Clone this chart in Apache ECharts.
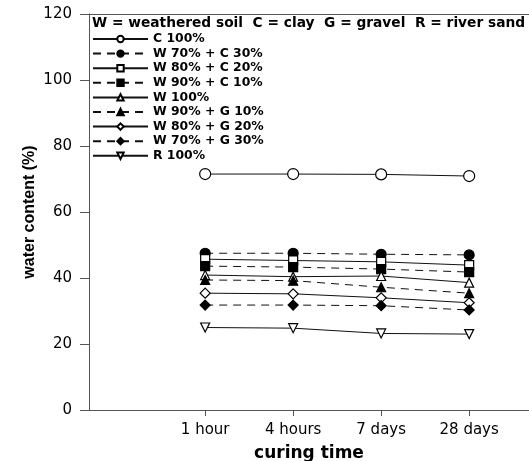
<!DOCTYPE html>
<html>
<head>
<meta charset="utf-8">
<script src="https://cdn.jsdelivr.net/npm/echarts@6/dist/echarts.min.js"></script>
<style>
  html, body { margin: 0; padding: 0; background: #fff; }
  #chart { width: 529px; height: 461px; }
</style>
</head>
<body>
<div id="chart"></div>
<script>
// curing time categories (x positions 1..4)
var categories = ['1 hour', '4 hours', '7 days', '28 days']
var yTicks = [0, 20, 40, 60, 80, 100, 120]

// water content (%) per mix
var c100 = [71.5, 71.5, 71.4, 70.9]
var w70c30 = [47.5, 47.5, 47.2, 47.0]
var w80c20 = [45.7, 45.3, 44.9, 43.9]
var w90c10 = [43.6, 43.3, 42.7, 41.8]
var w100 = [40.9, 40.4, 40.6, 38.6]
var w90g10 = [39.4, 39.2, 37.2, 35.4]
var w80g20 = [35.4, 35.2, 34.0, 32.5]
var w70g30 = [31.8, 31.8, 31.6, 30.3]
var r100 = [25.0, 24.8, 23.2, 23.0]

var chart = echarts.init(document.getElementById('chart'))

function mk (name, values, symbol, filled, dashed, size, rotate) {
  return {
    name: name,
    type: 'line',
    data: values.map(function (v, i) { return [i + 1, v] }),
    symbol: symbol,
    symbolSize: size,
    symbolRotate: rotate || 0,
    showSymbol: true,
    lineStyle: { color: '#111', width: 1, type: dashed ? [8, 6] : 'solid' },
    itemStyle: { color: filled ? '#000' : '#fff', borderColor: '#000', borderWidth: 1.2 },
    emphasis: { disabled: true },
    z: 3
  }
}

var seriesList = [
  mk('C 100%', c100, 'circle', false, false, 11),
  mk('W 70% + C 30%', w70c30, 'circle', true, true, 10),
  mk('W 80% + C 20%', w80c20, 'rect', false, false, 9),
  mk('W 90% + C 10%', w90c10, 'rect', true, true, 9),
  mk('W 100%', w100, 'triangle', false, false, 9),
  mk('W 90% + G 10%', w90g10, 'triangle', true, true, 9),
  mk('W 80% + G 20%', w80g20, 'diamond', false, false, 10),
  mk('W 70% + G 30%', w70g30, 'diamond', true, true, 10),
  mk('R 100%', r100, 'triangle', false, false, 9, 180)
]

var axisFont = '"DejaVu Sans", sans-serif'

chart.setOption({
  animation: false,
  backgroundColor: '#fff',
  grid: { left: 89, right: 0, top: 14, bottom: 51, outerBoundsMode: 'none' },
  graphic: [{
    type: 'text',
    left: 92,
    top: 16,
    style: {
      text: 'W = weathered soil  C = clay  G = gravel  R = river sand',
      font: 'bold 13.75px "DejaVu Sans", sans-serif',
      fill: '#000'
    }
  }],
  legend: {
    orient: 'vertical',
    left: 92,
    top: 33,
    padding: 0,
    itemWidth: 55,
    itemHeight: 8,
    itemGap: 2.6,
    textStyle: { fontFamily: axisFont, fontWeight: 'bold', fontSize: 12.4, color: '#000' },
    data: seriesList.map(function (s) { return s.name })
  },
  xAxis: [{
    type: 'value',
    min: -0.32,
    max: 4.68,
    name: 'curing time',
    nameLocation: 'middle',
    nameGap: 35,
    nameMoveOverlap: false,
    nameTextStyle: { fontFamily: axisFont, fontWeight: 'bold', fontSize: 17, color: '#000' },
    axisLine: { lineStyle: { color: '#555', width: 1 } },
    axisTick: { show: true, length: 6, customValues: [1, 2, 3, 4], lineStyle: { color: '#555' } },
    axisLabel: {
      customValues: [1, 2, 3, 4],
      margin: 13,
      fontFamily: axisFont,
      fontSize: 15,
      color: '#000',
      formatter: function (v) { return categories[Math.round(v) - 1] || '' }
    },
    splitLine: { show: false }
  }, {
    type: 'value',
    position: 'top',
    min: -0.32,
    max: 4.68,
    axisLine: { show: true, lineStyle: { color: '#555', width: 1 } },
    axisTick: { show: false },
    axisLabel: { show: false },
    splitLine: { show: false }
  }],
  yAxis: {
    type: 'value',
    min: yTicks[0],
    max: yTicks[yTicks.length - 1],
    interval: 20,
    name: 'water content (%)',
    nameLocation: 'middle',
    nameGap: 51,
    nameMoveOverlap: false,
    nameTextStyle: { fontFamily: 'Liberation Sans', fontWeight: 'bold', fontSize: 16, color: '#000' },
    axisLine: { show: true, onZero: false, lineStyle: { color: '#555', width: 1 } },
    axisTick: { show: true, length: 9, lineStyle: { color: '#555' } },
    axisLabel: { margin: 17, fontFamily: axisFont, fontSize: 15, color: '#000' },
    splitLine: { show: false }
  },
  series: seriesList
})
</script>
</body>
</html>
